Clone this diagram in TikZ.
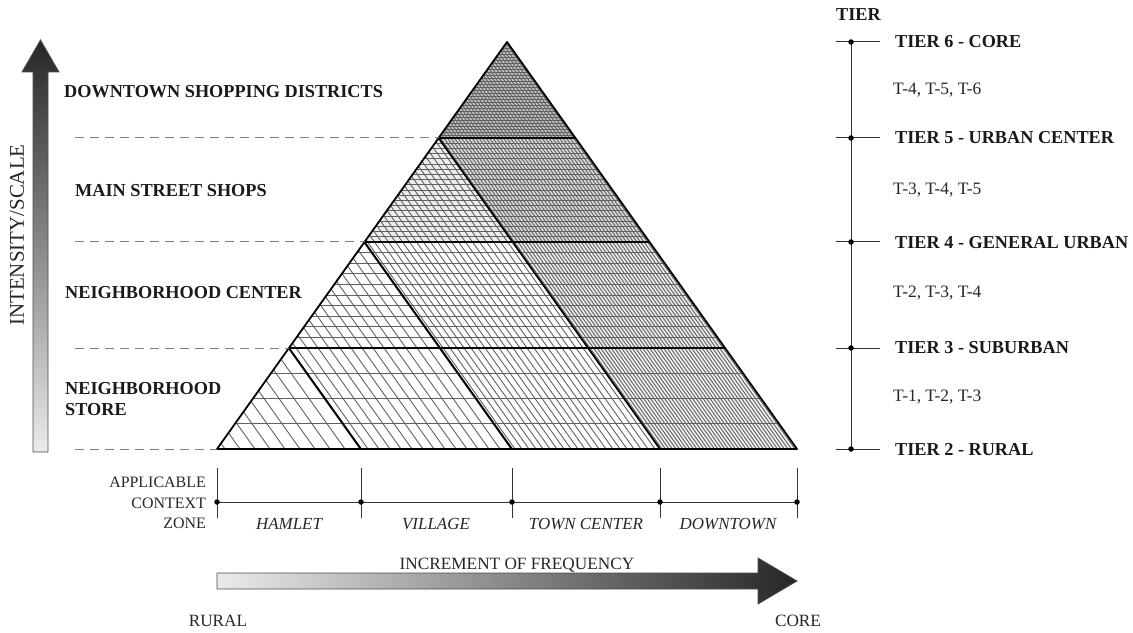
\documentclass[tikz,border=0pt]{standalone}
\usepackage{fontspec}
\setmainfont{Liberation Serif}
\begin{document}
\begin{tikzpicture}[x=1bp,y=-1bp,
  hatch/.style={draw=black!62, line width=0.9bp},
  boldln/.style={draw=black, line width=1.8bp, line join=round},
  dashln/.style={draw=black!50, line width=1bp, dash pattern=on 9bp off 6bp},
  blabel/.style={font=\fontsize{18.3}{21}\selectfont\bfseries, inner sep=0pt, anchor=west, text=black!90},
  rlabel/.style={font=\fontsize{17.5}{20}\selectfont, inner sep=0pt, anchor=west, text=black!85},
  ilabel/.style={font=\fontsize{17}{20}\selectfont\itshape, inner sep=0pt, text=black!85},
  plabel/.style={font=\fontsize{17.3}{20}\selectfont, inner sep=0pt, text=black!85},
  axisln/.style={draw=black!80, line width=1bp},
  dot/.style={circle, fill=black, inner sep=0pt, minimum size=5.5bp}
]
\useasboundingbox (0,0) rectangle (1133,633);

% triangle grid points
\coordinate (A) at (507,42);
\coordinate (l1) at (438.6,138); \coordinate (r1) at (575.4,138);
\coordinate (l2) at (364.5,242); \coordinate (r2) at (649.5,242);
\coordinate (l3) at (289,348);   \coordinate (r3) at (725,348);
\coordinate (b0) at (217,449); \coordinate (b1) at (361,449);
\coordinate (b2) at (512,449); \coordinate (b3) at (660,449);
\coordinate (b4) at (797,449);
\coordinate (m2) at (512.7,242); % D1 at level 2
\coordinate (m3) at (588.2,348); % D1 at level 3
\coordinate (n3) at (438.2,348); % D2 at level 3

% base tones of the denser cells
\fill[black!24] (A) -- (r1) -- (l1) -- cycle;
\fill[black!15] (l1) -- (r1) -- (r2) -- (m2) -- cycle;
\fill[black!7] (l1) -- (m2) -- (l2) -- cycle;
\fill[black!8] (m2) -- (r2) -- (r3) -- (m3) -- cycle;
\fill[black!6] (m3) -- (r3) -- (b4) -- (b3) -- cycle;

% diagonal hatching per strip
\begin{scope}
  \clip (l3) -- (b1) -- (b0) -- cycle;
  \foreach \x in {225,240,...,361} \draw[hatch] (\x,449) -- ++(-290,-407);
\end{scope}
\begin{scope}
  \clip (l2) -- (b2) -- (b1) -- (l3) -- cycle;
  \foreach \x in {368,379,...,512} \draw[hatch] (\x,449) -- ++(-290,-407);
\end{scope}
\begin{scope}
  \clip (l1) -- (b3) -- (b2) -- (l2) -- cycle;
  \foreach \x in {515,522,...,660} \draw[hatch] (\x,449) -- ++(-290,-407);
\end{scope}
\begin{scope}
  \clip (A) -- (b4) -- (b3) -- (l1) -- cycle;
  \foreach \x in {662,665.5,...,797} \draw[hatch] (\x,449) -- ++(-290,-407);
\end{scope}

% horizontal hatching per band
\begin{scope}
  \clip (A) -- (r1) -- (l1) -- cycle;
  \foreach \y in {45,48,...,136} \draw[hatch] (400,\y) -- (620,\y);
\end{scope}
\begin{scope}
  \clip (l1) -- (r1) -- (r2) -- (l2) -- cycle;
  \foreach \y in {143.2,148.4,...,240} \draw[hatch] (350,\y) -- (660,\y);
\end{scope}
\begin{scope}
  \clip (l2) -- (r2) -- (r3) -- (l3) -- cycle;
  \foreach \y in {252.6,263.2,...,346} \draw[hatch] (280,\y) -- (740,\y);
\end{scope}
\begin{scope}
  \clip (l3) -- (r3) -- (b4) -- (b0) -- cycle;
  \foreach \y in {373.25,398.5,423.75} \draw[hatch] (200,\y) -- (810,\y);
\end{scope}

% bold grid
\draw[boldln] (l1) -- (r1);
\draw[boldln] (l2) -- (r2);
\draw[boldln] (l3) -- (r3);
\draw[boldln] (l1) -- (b3);
\draw[boldln] (l2) -- (b2);
\draw[boldln] (l3) -- (b1);
\draw[boldln] (A) -- (b4) -- (b0) -- cycle;

% dashed guide lines
\coordinate (d1) at (75,138); \coordinate (d2) at (75,242);
\coordinate (d3) at (75,348); \coordinate (d4) at (75,449);
\draw[dashln] (d1) -- (l1);
\draw[dashln] (d2) -- (l2);
\draw[dashln] (d3) -- (l3);
\draw[dashln] (d4) -- (b0);

% vertical gradient arrow
\shade[top color=black!85, bottom color=black!8, draw=black!70, line width=0.8bp]
  (33,452) -- (33,72) -- (22,72) -- (40.5,40) -- (59,72) -- (48,72) -- (48,452) -- cycle;
\node[rotate=90, font=\fontsize{21}{23}\selectfont, text=black!85, inner sep=0pt] (intens) at (17,235) {INTENSITY/SCALE};

% left labels
\node[blabel] (ds) at (64,92) {DOWNTOWN SHOPPING DISTRICTS};
\node[blabel] (ms) at (75,191) {MAIN STREET SHOPS};
\node[blabel] (nc) at (65,293) {NEIGHBORHOOD CENTER};
\node[blabel, align=left] (ns) at (65,399) {NEIGHBORHOOD\\STORE};

% bottom context zone axis
\coordinate (z0) at (217,502); \coordinate (z1) at (361,502);
\coordinate (z2) at (512,502); \coordinate (z3) at (660,502);
\coordinate (z4) at (797,502);
\draw[axisln] (z0) -- (z4);
\foreach \p in {z0,z1,z2,z3,z4} {
  \draw[axisln] ([yshift=34bp]\p) -- ([yshift=-16bp]\p);
  \node[dot] at (\p) {};
}
\node[font=\fontsize{16}{20.5}\selectfont, align=right, anchor=east, inner sep=0pt, text=black!85] (acz) at (206,503) {APPLICABLE\\CONTEXT\\ZONE};
\node[ilabel] (ham) at (289,524) {HAMLET};
\node[ilabel] (vil) at (436,524) {VILLAGE};
\node[ilabel] (town) at (586,524) {TOWN CENTER};
\node[ilabel] (down) at (728,524) {DOWNTOWN};

% horizontal gradient arrow
\node[plabel] (incr) at (517,565) {INCREMENT OF FREQUENCY};
\shade[left color=black!8, right color=black!85, draw=black!70, line width=0.8bp]
  (217,573) -- (758,573) -- (758,558) -- (797,581) -- (758,604) -- (758,589) -- (217,589) -- cycle;
\node[plabel] (rural) at (218,621) {RURAL};
\node[plabel] (core) at (798,621) {CORE};

% tier scale
\coordinate (t6) at (851,42); \coordinate (t5) at (851,138);
\coordinate (t4) at (851,242); \coordinate (t3) at (851,348);
\coordinate (t2) at (851,449);
\draw[axisln] (t6) -- (t2);
\foreach \p in {t6,t5,t4,t3,t2} {
  \draw[axisln] ([xshift=-15bp]\p) -- ([xshift=29bp]\p);
  \node[dot] at (\p) {};
}
\node[blabel] (tier) at (836,15) {TIER};
\node[blabel] (tier6) at (895,42) {TIER 6 - CORE};
\node[rlabel] (tt6) at (893,90) {T-4, T-5, T-6};
\node[blabel] (tier5) at (895,138) {TIER 5 - URBAN CENTER};
\node[rlabel] (tt5) at (893,190) {T-3, T-4, T-5};
\node[blabel] (tier4) at (895,243) {TIER 4 - GENERAL URBAN};
\node[rlabel] (tt4) at (893,293) {T-2, T-3, T-4};
\node[blabel] (tier3) at (895,348) {TIER 3 - SUBURBAN};
\node[rlabel] (tt3) at (893,397) {T-1, T-2, T-3};
\node[blabel] (tier2) at (895,450) {TIER 2 - RURAL};
\end{tikzpicture}
\end{document}
